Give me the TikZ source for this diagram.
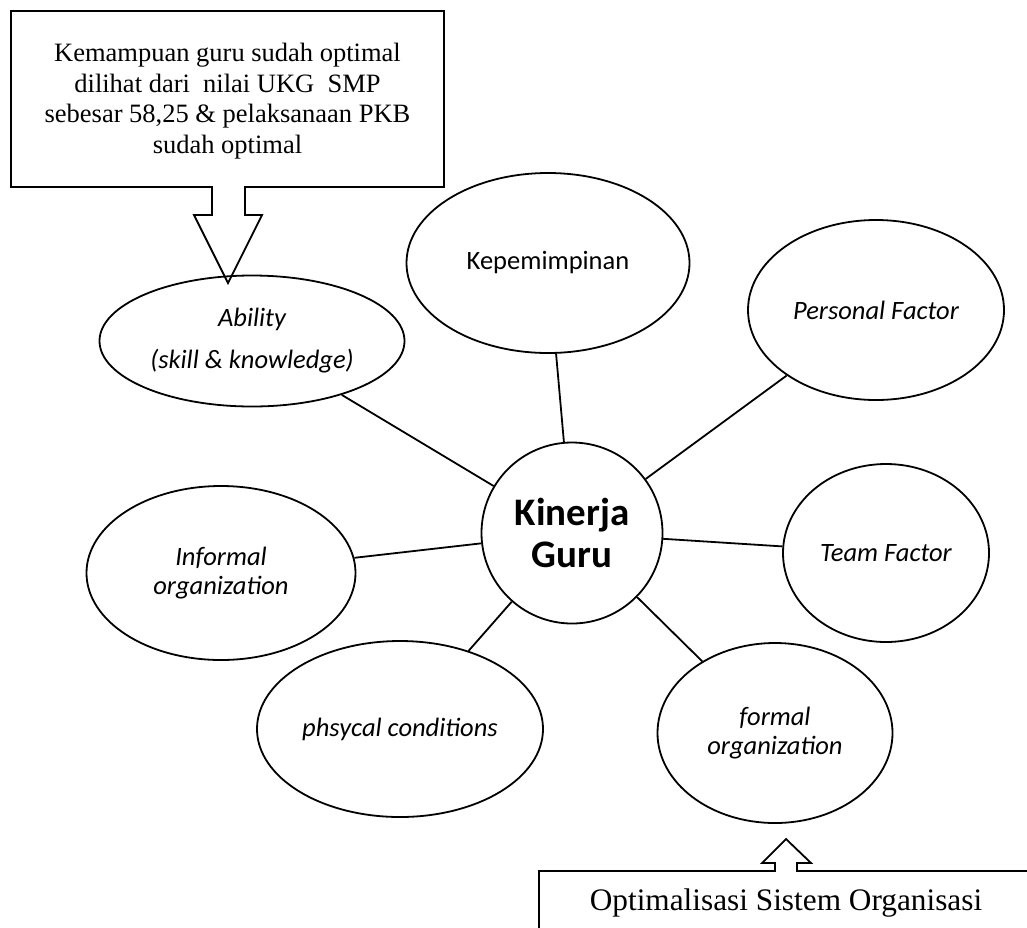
\documentclass[tikz,border=0pt]{standalone}
\usepackage{fontspec}
\setmainfont{Liberation Serif}
\newfontfamily\calfont{Carlito}
\usetikzlibrary{shapes.geometric}
\tikzset{
  ln/.style={line width=1.8pt, line join=miter},
  oval/.style={ellipse, draw, line width=1.8pt, inner sep=0pt, align=center,
    font=\calfont\itshape\fontsize{26.5}{29}\selectfont},
  hub/.style={circle, draw, line width=1.8pt, inner sep=0pt, minimum size=181pt, align=center,
    font=\calfont\bfseries\fontsize{39}{42}\selectfont},
  callout/.style={line width=1.8pt, draw, fill=white},
}
\begin{document}
\begin{tikzpicture}[x=1pt,y=-1pt]
\useasboundingbox (0,0) rectangle (1027,927);
% top callout
\draw[callout] (11,11) -- (444,11) -- (444,187) -- (245,187) -- (245,215) -- (262,215)
  -- (228,283) -- (194,215) -- (212,215) -- (212,187) -- (11,187) -- cycle;
\node[align=center, font=\fontsize{26.5}{30.5}\selectfont] (ct) at (227.5,101)
  {Kemampuan guru sudah optimal\\dilihat dari\ \ nilai UKG\ \ SMP\\sebesar 58,25 \& pelaksanaan PKB\\sudah optimal};
% bottom callout
\draw[callout] (1030,871) -- (797,871) -- (797,863) -- (811,863) -- (786,839) -- (762,863)
  -- (775,863) -- (775,871) -- (539,871) -- (539,930);
\node[anchor=base, font=\fontsize{31.3}{36}\selectfont] (cb) at (786,910) {Optimalisasi Sistem Organisasi};
% hub
\node[hub] (kg) at (572,533) {Kinerja\\Guru};
% ovals
\node[oval, minimum width=305pt, minimum height=131pt, font=\calfont\itshape\fontsize{26.5}{42}\selectfont] (ab) at (252,341) {Ability\\(skill \& knowledge)};
\node[oval, minimum width=283pt, minimum height=180pt, font=\calfont\fontsize{26.5}{29}\selectfont] (kp) at (548,263) {Kepemimpinan};
\node[oval, minimum width=256pt, minimum height=180pt] (pf) at (876,310) {Personal Factor};
\node[oval, minimum width=206pt, minimum height=178pt] (tf) at (886,553) {Team Factor};
\node[oval, minimum width=269pt, minimum height=174pt] (io) at (221,573) {Informal\\organization};
\node[oval, minimum width=286pt, minimum height=176pt] (pc) at (400,729) {phsycal conditions};
\node[oval, minimum width=235pt, minimum height=180pt] (fo) at (775,733) {formal\\organization};
% connectors
\draw[ln] (ab) -- (kg);
\draw[ln] (kp) -- (kg);
\draw[ln] (pf) -- (kg);
\draw[ln] (tf) -- (kg);
\draw[ln] (io) -- (kg);
\draw[ln] (pc) -- (kg);
\draw[ln] (fo) -- (kg);
\end{tikzpicture}
\end{document}
